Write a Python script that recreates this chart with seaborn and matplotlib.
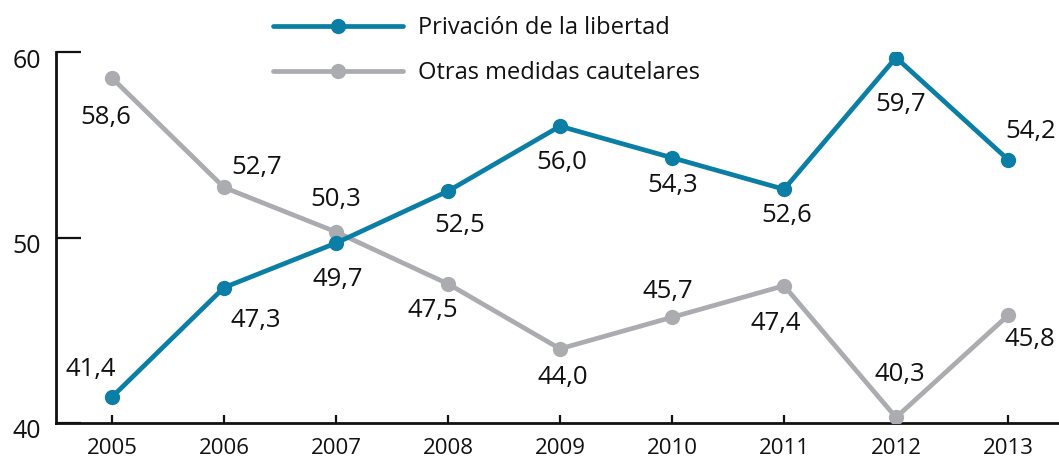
import matplotlib
matplotlib.use("Agg")
import matplotlib.pyplot as plt
from matplotlib.transforms import ScaledTranslation
import seaborn as sns
import pandas as pd

# Series values (percentages) by year
years = [2005, 2006, 2007, 2008, 2009, 2010, 2011, 2012, 2013]
privacion = [41.4, 47.3, 49.7, 52.5, 56.0, 54.3, 52.6, 59.7, 54.2]
otras = [58.6, 52.7, 50.3, 47.5, 44.0, 45.7, 47.4, 40.3, 45.8]
series_names = ["Privación de la libertad", "Otras medidas cautelares"]
y_ticks = [40, 50, 60]

# Label placement (pixel offsets from each point)
off_privacion = [(-21, 28), (32, -33), (2, -36), (12, -34), (2, -36),
                 (1, -28), (3, -26), (5, -47), (23, 28)]
off_otras = [(-6, -40), (33, 20), (0, 32), (-15, -27), (3, -29),
             (-4, 26), (-8, -38), (4, 43), (22, -24)]

BLUE = "#0a7ea4"
GRAY = "#abacb0"
INK = "#111111"

sns.set_theme(style="white")
plt.rcParams["font.family"] = ["Open Sans", "DejaVu Sans"]

df = pd.DataFrame({
    "anio": years * 2,
    "valor": privacion + otras,
    "serie": [series_names[0]] * len(years) + [series_names[1]] * len(years),
})

fig = plt.figure(figsize=(10.59, 4.59), dpi=100)
ax = fig.add_axes([56 / 1059, 36 / 459, (1059 - 56) / 1059, (423 - 52) / 459])

sns.lineplot(data=df, x="anio", y="valor", hue="serie", hue_order=series_names,
             palette=[BLUE, GRAY], marker="o", markersize=11, markeredgewidth=0,
             linewidth=3.4, ax=ax, legend=True)

# blue series on top of the gray one
for ln in ax.lines:
    if ln.get_color() == BLUE:
        ln.set_zorder(4)
    else:
        ln.set_zorder(3)

ax.set_xlim(2004.5, 2013.455)
ax.set_ylim(40, 60)
ax.set_xticks(years)
ax.set_xticklabels([str(y) for y in years])
ax.set_yticks(y_ticks)
ax.set_yticklabels([str(v) for v in y_ticks])
ax.set_xlabel("")
ax.set_ylabel("")

for side in ("top", "right"):
    ax.spines[side].set_visible(False)
for side in ("left", "bottom"):
    ax.spines[side].set_linewidth(2.0)
    ax.spines[side].set_color(INK)

ax.tick_params(axis="x", direction="in", length=6, width=1.6, color=INK,
               pad=11, labelsize=16, labelcolor=INK, bottom=True)
ax.tick_params(axis="y", direction="in", length=18, width=1.6, color=INK,
               pad=11, labelsize=18, labelcolor=INK, left=True)
for lab in ax.get_yticklabels():
    lab.set_transform(lab.get_transform() + ScaledTranslation(0, -6 / 100, fig.dpi_scale_trans))

def fmt(v):
    return f"{v:.1f}".replace(".", ",")

for vals, offs in ((privacion, off_privacion), (otras, off_otras)):
    for x, v, (dx, dy) in zip(years, vals, offs):
        ax.annotate(fmt(v), (x, v), xytext=(dx, dy), textcoords="offset pixels",
                    ha="center", va="center", fontsize=18.5, color=INK,
                    annotation_clip=False, zorder=5)

handles, labels = ax.get_legend_handles_labels()
ax.legend(handles, labels, loc="upper left", bbox_to_anchor=(273 / 1059, 1 - 16 / 459),
          bbox_transform=fig.transFigure, frameon=False, fontsize=17,
          handlelength=5.5, handletextpad=0.64, labelspacing=0.89,
          borderpad=0, borderaxespad=0, labelcolor=INK)

fig.savefig("out.png", dpi=100)
